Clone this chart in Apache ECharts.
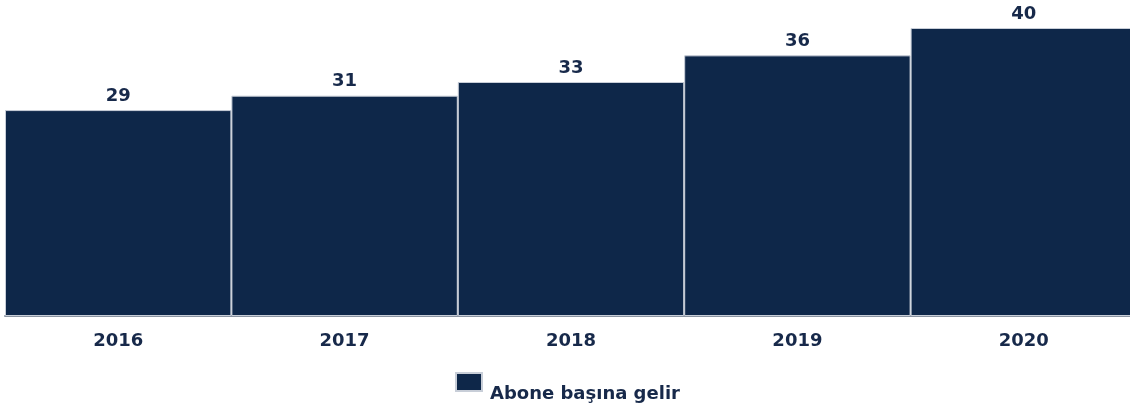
<!DOCTYPE html>
<html>
<head>
<meta charset="utf-8">
<script src="https://cdn.jsdelivr.net/npm/echarts@6/dist/echarts.min.js"></script>
<style>
html, body { margin: 0; padding: 0; background: #fff; }
#chart { width: 1130px; height: 407px; }
</style>
</head>
<body>
<div id="chart"></div>
<script>
var years = ['2016', '2017', '2018', '2019', '2020'];
var revenue = [28.6, 30.6, 32.5, 36.2, 40];
var seriesName = 'Abone başına gelir';

var chart = echarts.init(document.getElementById('chart'));
var option = {
    animation: false,
    grid: {
        left: 5,
        top: 28,
        width: 1132,
        height: 288,
        outerBoundsMode: 'none'
    },
    legend: {
        data: [seriesName],
        left: 455,
        top: 372,
        padding: 0,
        itemWidth: 26,
        itemHeight: 18,
        itemGap: 8,
        icon: 'rect',
        formatter: '{t|{name}}',
        textStyle: {
            fontFamily: 'DejaVu Sans',
            fontWeight: 'bold',
            fontSize: 18,
            color: '#17294a',
            rich: {
                t: {
                    fontFamily: 'DejaVu Sans',
                    fontWeight: 'bold',
                    fontSize: 18,
                    color: '#17294a',
                    padding: [24, 0, 0, 3]
                }
            }
        }
    },
    xAxis: {
        type: 'category',
        data: years,
        axisTick: { show: false },
        axisLine: { lineStyle: { color: '#8a93a0', width: 2 } },
        axisLabel: {
            margin: 16,
            fontFamily: 'DejaVu Sans',
            fontWeight: 'bold',
            fontSize: 18,
            color: '#17294a'
        }
    },
    yAxis: {
        type: 'value',
        min: 0,
        max: 40,
        show: false,
        splitLine: { show: false }
    },
    series: [
        {
            name: seriesName,
            type: 'bar',
            data: revenue,
            barCategoryGap: '0%',
            itemStyle: {
                color: '#0e2749',
                borderColor: '#c8ced8',
                borderWidth: 1
            },
            label: {
                show: true,
                position: 'top',
                distance: 5,
                fontFamily: 'DejaVu Sans',
                fontWeight: 'bold',
                fontSize: 18,
                color: '#17294a',
                formatter: function (p) { return Math.round(p.value); }
            }
        }
    ]
};
chart.setOption(option);
</script>
</body>
</html>
